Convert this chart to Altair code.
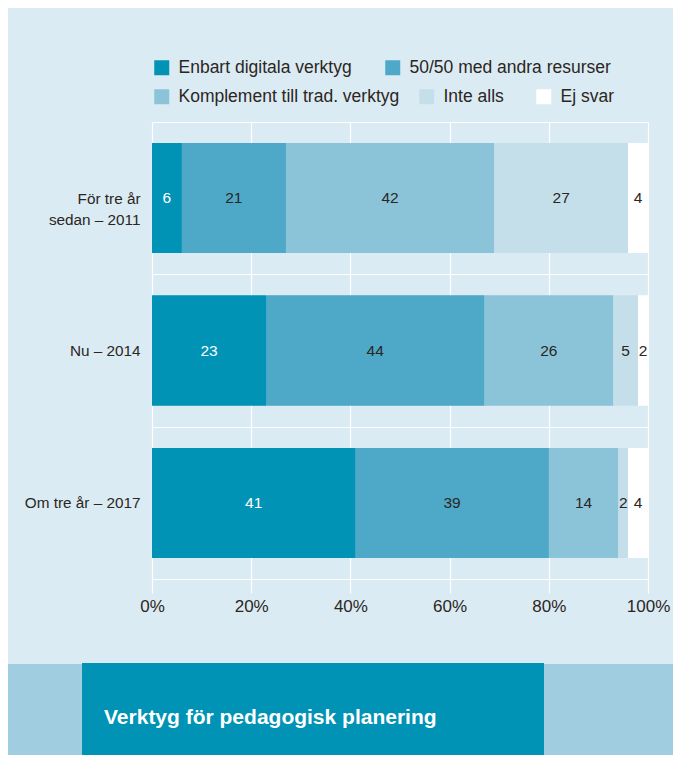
import altair as alt
import pandas as pd

periods = ["För tre år\nsedan – 2011", "Nu – 2014", "Om tre år – 2017"]
categories = ["Enbart digitala verktyg", "50/50 med andra resurser",
              "Komplement till trad. verktyg", "Inte alls", "Ej svar"]
enbart = [6, 23, 41]
halv = [21, 44, 39]
komplement = [42, 26, 14]
inte_alls = [27, 5, 2]
ej_svar = [4, 2, 4]
x_ticks = [0, 20, 40, 60, 80, 100]
title_text = "Verktyg för pedagogisk planering"

colors = ["#0093b5", "#4ea9c8", "#8bc4d9", "#c5dfea", "#ffffff"]
BG = "#dbebf4"
TXT = "#2b2622"
FONT = "Liberation Sans"

series = [enbart, halv, komplement, inte_alls, ej_svar]
rows = []
for pi, p in enumerate(periods):
    acc = 0
    for ci, c in enumerate(categories):
        v = series[ci][pi]
        rows.append({"period": p, "cat": c, "value": v, "start": acc,
                     "end": acc + v, "mid": acc + v / 2})
        acc += v
df = pd.DataFrame(rows)

W, H = 496, 457
PAD = {"left": 144, "top": 114, "right": 25, "bottom": 176}

xs = alt.X("start:Q", scale=alt.Scale(domain=[0, 100], nice=False, zero=False),
           axis=alt.Axis(values=x_ticks, labelExpr="datum.value + '%'", title=None,
                         grid=True, gridColor="white", gridWidth=1.2,
                         domainColor="white", domainWidth=1.2,
                         tickColor="white", tickWidth=1.2, tickSize=14,
                         labelFont=FONT, labelFontSize=17, labelColor=TXT,
                         labelPadding=5, labelFlush=False, labelOverlap=False))
ys = alt.Y("period:N", sort=periods,
           scale=alt.Scale(paddingInner=0, paddingOuter=0),
           axis=alt.Axis(title=None, labelExpr="split(datum.label, '\\n')",
                         tickBand="extent", grid=True, gridColor="white", gridWidth=1.2,
                         ticks=False, domain=False, labelFont=FONT, labelFontSize=15.3,
                         labelColor=TXT, labelPadding=12, labelLineHeight=21))

legend_pos = [(1, -63), (232, -63), (1, -34), (266, -34), (383, -34)]

base = alt.Chart(df)
layers = []
for i, c in enumerate(categories):
    lx, ly = legend_pos[i]
    layers.append(
        base.mark_bar(height={"band": 0.72}).encode(
            x=xs, x2="end:Q", y=ys,
            color=alt.Color("cat:N",
                            scale=alt.Scale(domain=categories, range=colors),
                            legend=alt.Legend(values=[c], orient="none", legendX=lx, legendY=ly,
                                              title=None, symbolType="square", symbolSize=225,
                                              symbolStrokeWidth=0, labelFont=FONT,
                                              labelFontSize=17.5, labelColor=TXT,
                                              labelOffset=8, labelLimit=500, padding=0))
        )
    )

labels = base.mark_text(font=FONT, fontSize=15.5, baseline="middle", align="center").encode(
    x=alt.X("mid:Q"), y=alt.Y("period:N", sort=periods), text="value:Q",
    color=alt.condition(alt.datum.cat == categories[0], alt.value("white"), alt.value(TXT))
)

one = pd.DataFrame({"t": [title_text]})
strip = alt.Chart(one).mark_rect(color="#a0cde0").encode(
    x=alt.value(-144), x2=alt.value(W + PAD["right"]), y=alt.value(542), y2=alt.value(H + PAD["bottom"]))
box = alt.Chart(one).mark_rect(color="#0093b5").encode(
    x=alt.value(-70), x2=alt.value(392), y=alt.value(541), y2=alt.value(H + PAD["bottom"]))
title = alt.Chart(one).mark_text(font=FONT, fontSize=21, fontWeight="bold", color="white",
                                 align="left", baseline="middle").encode(
    text="t:N", x=alt.value(-48), y=alt.value(596))

chart = alt.layer(strip, box, title, *layers, labels).resolve_scale(color="independent").properties(
    width=W, height=H, background=BG, padding=PAD,
    autosize=alt.AutoSizeParams(type="none")
).configure_view(stroke=None)

chart.save("out.html", embed_options={"renderer": "svg", "actions": False})
